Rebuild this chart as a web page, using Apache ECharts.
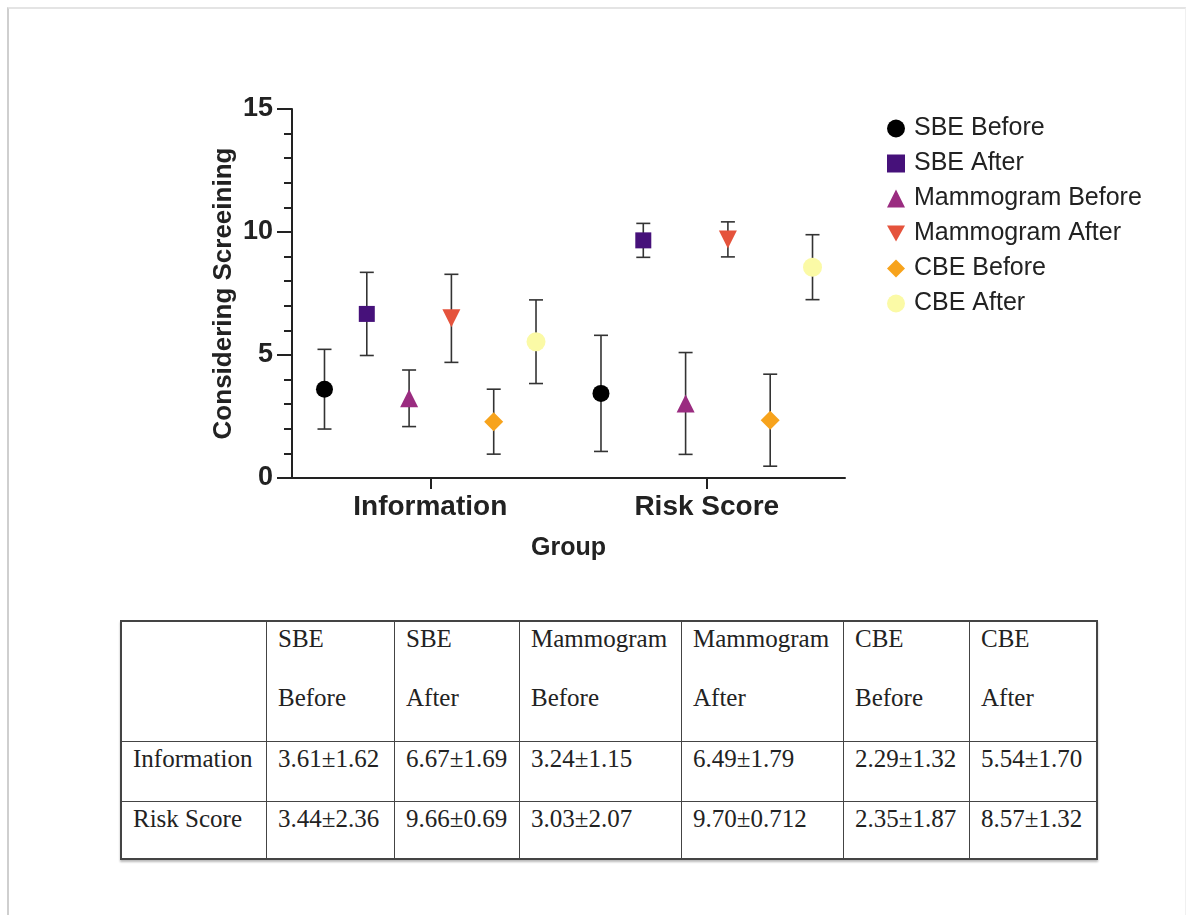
<!DOCTYPE html>
<html>
<head>
<meta charset="utf-8">
<script src="https://cdn.jsdelivr.net/npm/echarts@6/dist/echarts.min.js"></script>
<style>
  html, body { margin: 0; padding: 0; background: #fff; }
  #page { position: absolute; left: 7px; top: 7px; width: 1176px; height: 920px;
          border-left: 2px solid #cfcfcf; border-top: 2px solid #e4e4e4; border-right: 1px solid #f0f0f0; }
  #chart { position: absolute; left: 0; top: 0; width: 1189px; height: 600px; }
  #tbl { position: absolute; left: 120px; top: 620px; border-collapse: collapse;
         font-family: "Liberation Serif", "Times New Roman", serif; font-size: 25px; color: #222;
         border: 2px solid #444; box-shadow: 0 2px 2px #bbb; }
  #tbl td { border: 1px solid #444; vertical-align: top; padding: 0 0 0 11px; line-height: 34px; white-space: nowrap; }
  #tbl .l2 { display: block; margin-top: 25px; }
</style>
</head>
<body>
<div id="page"></div>
<div id="chart"></div>
<table id="tbl"></table>
<script>
// groups on the x axis
var groups = ['Information', 'Risk Score'];
// series names
var seriesNames = ['SBE Before', 'SBE After', 'Mammogram Before', 'Mammogram After', 'CBE Before', 'CBE After'];
// means per series, [Information, Risk Score]
var sbeBefore = [3.61, 3.44];
var sbeAfter = [6.67, 9.66];
var mammoBefore = [3.24, 3.03];
var mammoAfter = [6.49, 9.70];
var cbeBefore = [2.29, 2.35];
var cbeAfter = [5.54, 8.57];
// standard deviations, same order
var sbeBeforeSd = [1.62, 2.36];
var sbeAfterSd = [1.69, 0.69];
var mammoBeforeSd = [1.15, 2.07];
var mammoAfterSd = [1.79, 0.712];
var cbeBeforeSd = [1.32, 1.87];
var cbeAfterSd = [1.70, 1.32];
var yTicks = [0, 5, 10, 15];

var means = [sbeBefore, sbeAfter, mammoBefore, mammoAfter, cbeBefore, cbeAfter];
var sds = [sbeBeforeSd, sbeAfterSd, mammoBeforeSd, mammoAfterSd, cbeBeforeSd, cbeAfterSd];

var colors = ['#000000', '#46117a', '#9a2c80', '#e5533c', '#f7a31c', '#fbfaa6'];
var symbols = ['circle', 'rect', 'triangle', 'path://M0,0 L10,0 L5,9 Z', 'diamond', 'circle'];
var sizes = [17, 16, 18, 18, 19, 19];
var spread = 0.153; // dodge between series, in category units

function dodge(g, k) { return g + (k - 2.5) * spread; }

var series = [];
var errData = [];
seriesNames.forEach(function (name, k) {
    var pts = [];
    for (var g = 0; g < groups.length; g++) {
        pts.push([dodge(g, k), means[k][g]]);
        errData.push([dodge(g, k), means[k][g] - sds[k][g], means[k][g] + sds[k][g]]);
    }
    series.push({
        name: name,
        type: 'scatter',
        xAxisIndex: 1,
        symbol: symbols[k],
        symbolSize: sizes[k],
        itemStyle: { color: colors[k], opacity: 1 },
        z: 3,
        data: pts
    });
});

series.unshift({
    name: 'err',
    type: 'custom',
    xAxisIndex: 1,
    z: 2,
    encode: { x: 0, y: [1, 2] },
    renderItem: function (params, api) {
        var lo = api.coord([api.value(0), api.value(1)]);
        var hi = api.coord([api.value(0), api.value(2)]);
        var w = 7;
        var st = { stroke: '#333', lineWidth: 1.6 };
        return {
            type: 'group',
            children: [
                { type: 'line', shape: { x1: lo[0], y1: lo[1], x2: hi[0], y2: hi[1] }, style: st },
                { type: 'line', shape: { x1: lo[0] - w, y1: lo[1], x2: lo[0] + w, y2: lo[1] }, style: st },
                { type: 'line', shape: { x1: hi[0] - w, y1: hi[1], x2: hi[0] + w, y2: hi[1] }, style: st }
            ]
        };
    },
    data: errData
});

var chart = echarts.init(document.getElementById('chart'), null, { renderer: 'canvas' });
var boldFont = { fontFamily: 'Liberation Sans, Arial, sans-serif', fontWeight: 'bold', color: '#222' };

chart.setOption({
    animation: false,
    grid: { left: 292, top: 109, width: 553, height: 369, containLabel: false },
    legend: {
        data: seriesNames,
        orient: 'vertical',
        left: 882,
        top: 111,
        itemWidth: 18,
        itemHeight: 18,
        itemGap: 10,
        textStyle: { fontFamily: 'Liberation Sans, Arial, sans-serif', fontSize: 25, color: '#222', lineHeight: 24, padding: [0, 0, 0, 4] }
    },
    xAxis: [{
        type: 'category',
        data: groups,
        boundaryGap: true,
        name: 'Group',
        nameLocation: 'middle',
        nameGap: 58,
        nameTextStyle: Object.assign({ fontSize: 25 }, boldFont),
        axisLine: { show: true, lineStyle: { color: '#222', width: 2 } },
        axisTick: { show: true, alignWithLabel: true, length: 11, lineStyle: { color: '#222', width: 2 } },
        axisLabel: Object.assign({ fontSize: 28, margin: 15 }, boldFont),
        splitLine: { show: false }
    }, {
        type: 'value',
        min: -0.5,
        max: 1.5,
        show: false
    }],
    yAxis: {
        type: 'value',
        min: yTicks[0],
        max: yTicks[yTicks.length - 1],
        interval: 5,
        name: 'Considering Screeining',
        nameLocation: 'middle',
        nameGap: 55,
        nameTextStyle: Object.assign({ fontSize: 26 }, boldFont),
        axisLine: { show: true, onZero: false, lineStyle: { color: '#222', width: 2 } },
        axisTick: { show: true, length: 15, lineStyle: { color: '#222', width: 2 } },
        minorTick: { show: true, splitNumber: 5, length: 8, lineStyle: { color: '#222', width: 2 } },
        axisLabel: Object.assign({ fontSize: 27, margin: 19 }, boldFont),
        splitLine: { show: false }
    },
    series: series
});

// summary table below the chart
function fmt(v) {
    var d = (String(v).split('.')[1] || '').length;
    return v.toFixed(Math.max(2, d));
}
var colW = [145, 128, 125, 162, 162, 126, 127];
var rowH = [120, 60, 58];
var html = '<tr style="height:' + rowH[0] + 'px"><td style="width:' + (colW[0] - 12) + 'px"></td>';
seriesNames.forEach(function (name, k) {
    var parts = name.split(' ');
    html += '<td style="width:' + (colW[k + 1] - 12) + 'px">' + parts[0] + '<span class="l2">' + parts[1] + '</span></td>';
});
html += '</tr>';
groups.forEach(function (g, gi) {
    html += '<tr style="height:' + rowH[gi + 1] + 'px"><td>' + g + '</td>';
    for (var k = 0; k < seriesNames.length; k++) {
        html += '<td>' + fmt(means[k][gi]) + '\u00b1' + fmt(sds[k][gi]) + '</td>';
    }
    html += '</tr>';
});
document.getElementById('tbl').innerHTML = html;
</script>
</body>
</html>
